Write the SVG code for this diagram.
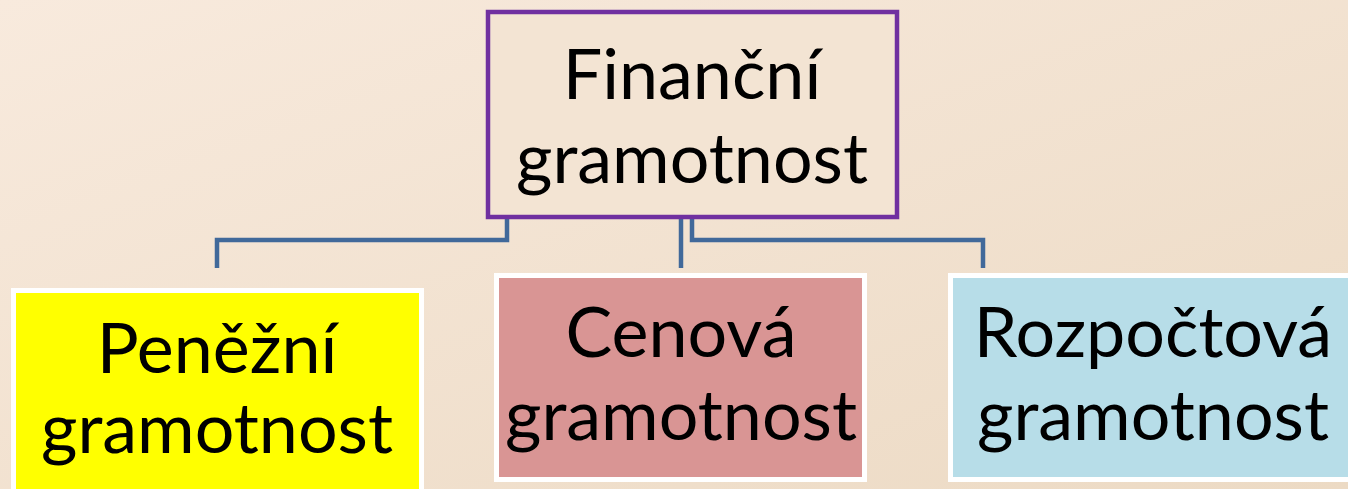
<svg xmlns="http://www.w3.org/2000/svg" width="1348" height="489" viewBox="0 0 1348 489">
<defs>
<linearGradient id="bg" x1="0" y1="0" x2="1" y2="1">
<stop offset="0" stop-color="#F8EADD"/>
<stop offset="1" stop-color="#ECDAC4"/>
</linearGradient>
</defs>
<style>
.t{font-family:Lato,"Open Sans","Liberation Sans",sans-serif;font-size:70px;fill:#000;text-anchor:middle}
.c{fill:none;stroke:#41699A;stroke-width:4.5}
.w{stroke:#FFFFFF;stroke-width:5}
</style>
<rect width="1348" height="489" fill="url(#bg)"/>
<g id="connectors">
<polyline class="c" points="507,219 507,240 217,240 217,268"/>
<polyline class="c" points="681,219 681,268"/>
<polyline class="c" points="692,219 692,240 983,240 983,268"/>
</g>
<g id="n0">
<rect x="488" y="12" width="409" height="205" fill="#F3E4D3" stroke="#7030A0" stroke-width="4.5"/>
<text class="t" x="692" y="99">Finanční</text>
<text class="t" x="692" y="183">gramotnost</text>
</g>
<g id="n1">
<rect class="w" x="13.5" y="290.5" width="408" height="210" fill="#FFFF00"/>
<text class="t" x="217" y="373">Peněžní</text>
<text class="t" x="217" y="453">gramotnost</text>
</g>
<g id="n2">
<rect class="w" x="496.5" y="275.5" width="368" height="204" fill="#D99594"/>
<text class="t" x="681" y="357">Cenová</text>
<text class="t" x="681" y="440">gramotnost</text>
</g>
<g id="n3">
<rect class="w" x="950.5" y="275.5" width="410" height="204" fill="#B7DDE8"/>
<text class="t" x="1153" y="357">Rozpočtová</text>
<text class="t" x="1153" y="440">gramotnost</text>
</g>
</svg>
